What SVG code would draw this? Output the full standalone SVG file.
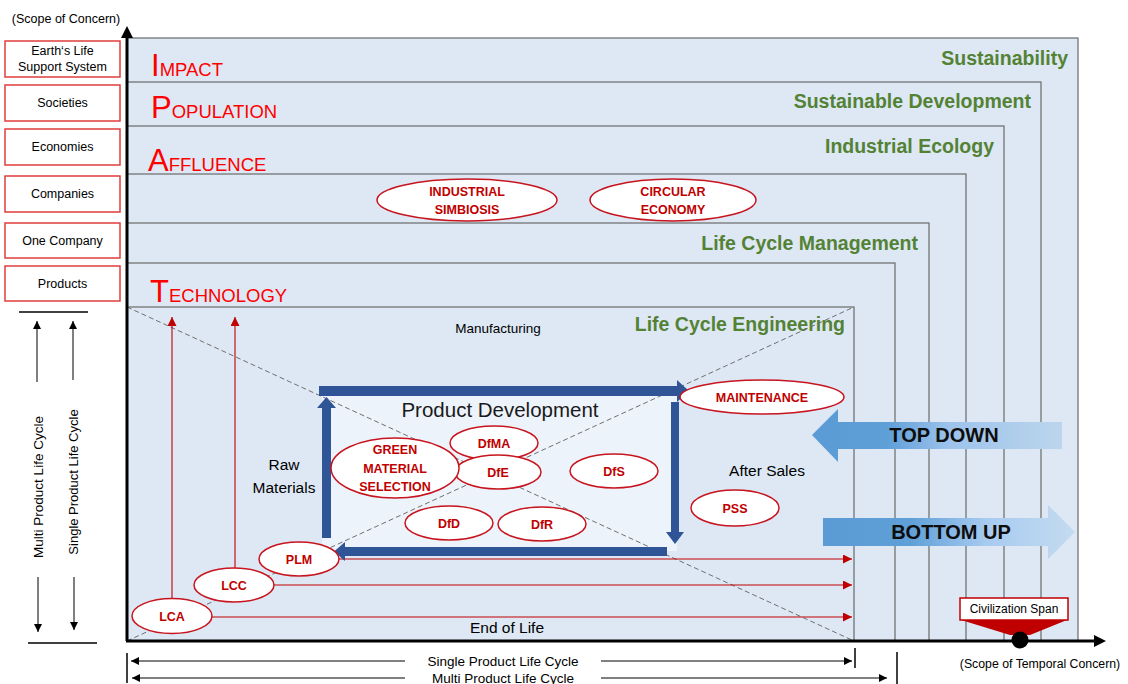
<svg xmlns="http://www.w3.org/2000/svg" width="1128" height="684" viewBox="0 0 1128 684">
<style>
text{font-family:"Liberation Sans",Arial,sans-serif;}
.zone{fill:#dde8f4;stroke:#6a6a6a;stroke-width:1.2}
.lbox{fill:#fff;stroke:#e03c3c;stroke-width:1.5}
.lt{font-size:12.5px;fill:#000;text-anchor:middle}
.big{fill:#ff0000}
.green{font-size:19.5px;font-weight:bold;fill:#548235;text-anchor:end}
.ell{fill:#fff;stroke:#c8141e;stroke-width:1.5}
.et{font-size:12.5px;font-weight:bold;fill:#c00000;text-anchor:middle}
.blk{fill:#1a1a1a}
.dash{stroke:#6f6f6f;stroke-width:1;stroke-dasharray:5 3;fill:none}
.red{stroke:#c00000;stroke-width:1.1;fill:none}
.thin{stroke:#000;stroke-width:1;fill:none}
.pd{fill:#2f5597}
</style>
<defs>
<marker id="ah" viewBox="0 0 10 10" refX="10" refY="5" markerWidth="8" markerHeight="8" markerUnits="userSpaceOnUse" orient="auto"><path d="M0,0 L10,5 L0,10 z" fill="#000"/></marker>
<marker id="ahr" viewBox="0 0 10 10" refX="10" refY="5" markerWidth="9" markerHeight="9" markerUnits="userSpaceOnUse" orient="auto"><path d="M0,0 L10,5 L0,10 z" fill="#c00000"/></marker>
<marker id="ahb" viewBox="0 0 10 10" refX="10" refY="5" markerWidth="12" markerHeight="12" markerUnits="userSpaceOnUse" orient="auto"><path d="M0,0 L10,5 L0,10 z" fill="#000"/></marker>
<linearGradient id="gTD" x1="0" y1="0" x2="1" y2="0">
<stop offset="0" stop-color="#5b9bd5"/><stop offset="0.3" stop-color="#5f9fd8"/><stop offset="0.55" stop-color="#9dc3ec"/><stop offset="1" stop-color="#bcd5ec"/>
</linearGradient>
<linearGradient id="gBU" x1="0" y1="0" x2="1" y2="0">
<stop offset="0" stop-color="#5b9bd5"/><stop offset="0.35" stop-color="#60a0d8"/><stop offset="0.65" stop-color="#a8cbf0"/><stop offset="1" stop-color="#c4dbf0"/>
</linearGradient>
</defs>
<rect width="1128" height="684" fill="#fff"/>

<g id="zones">
<rect class="zone" x="127" y="38" width="951" height="603"/>
<rect class="zone" x="127" y="82" width="914" height="559"/>
<rect class="zone" x="127" y="126" width="877" height="515"/>
<rect class="zone" x="127" y="174" width="839" height="467"/>
<rect class="zone" x="127" y="223" width="802" height="418"/>
<rect class="zone" x="127" y="263" width="768" height="378"/>
<rect class="zone" x="127" y="307" width="727" height="334"/>
<rect x="322" y="391" width="355" height="160" fill="#edf3fa"/>
</g>

<g id="zone-labels">
<text class="green" x="1068" y="65">Sustainability</text>
<text class="green" x="1031" y="108">Sustainable Development</text>
<text class="green" x="994" y="153">Industrial Ecology</text>
<text class="green" x="918" y="250">Life Cycle Management</text>
<text class="green" x="845" y="331">Life Cycle Engineering</text>
<text class="big" x="151" y="76"><tspan font-size="31">I</tspan><tspan font-size="18.5">MPACT</tspan></text>
<text class="big" x="151" y="118"><tspan font-size="31">P</tspan><tspan font-size="18.5">OPULATION</tspan></text>
<text class="big" x="148" y="171"><tspan font-size="31">A</tspan><tspan font-size="18.5">FFLUENCE</tspan></text>
<text class="big" x="150" y="302"><tspan font-size="31">T</tspan><tspan font-size="18.5">ECHNOLOGY</tspan></text>
</g>

<g id="diagonals">
<line class="dash" x1="127" y1="307" x2="854" y2="641"/>
<line class="dash" x1="127" y1="641" x2="854" y2="307"/>
</g>

<g id="phase-labels">
<text x="498" y="333" font-size="13.5" text-anchor="middle">Manufacturing</text>
<text x="284" y="470" font-size="15.5" text-anchor="middle">Raw</text>
<text x="284" y="493" font-size="15.5" text-anchor="middle">Materials</text>
<text x="767" y="476" font-size="15.5" text-anchor="middle">After Sales</text>
<text x="507" y="633" font-size="15.5" text-anchor="middle">End of Life</text>
<text x="500" y="417" font-size="20.5" text-anchor="middle" fill="#1a1a1a">Product Development</text>
</g>

<g id="connectors">
<line class="red" x1="172" y1="599" x2="172" y2="317" marker-end="url(#ahr)"/>
<line class="red" x1="235" y1="568" x2="235" y2="317" marker-end="url(#ahr)"/>
<line class="red" x1="339" y1="559" x2="852" y2="559" marker-end="url(#ahr)"/>
<line class="red" x1="274" y1="585" x2="852" y2="585" marker-end="url(#ahr)"/>
<line class="red" x1="212" y1="617" x2="852" y2="617" marker-end="url(#ahr)"/>
<polygon class="pd" points="319,386 677,386 677,380 689,391 677,402 677,396 319,396"/>
<polygon class="pd" points="671,402 679,402 679,532 684,532 675,544 666,532 671,532"/>
<polygon class="pd" points="667,547 667,556 345,556 345,561 334,551.5 345,542 345,547"/>
<polygon class="pd" points="322,538 331,538 331,408 336,408 326.5,397 317,408 322,408"/>
</g>

<g id="ell-industrial"><ellipse class="ell" cx="467" cy="200" rx="90" ry="21"/><text class="et" x="467" y="196">INDUSTRIAL</text><text class="et" x="467" y="214">SIMBIOSIS</text></g>
<g id="ell-circular"><ellipse class="ell" cx="673" cy="200" rx="83" ry="21"/><text class="et" x="673" y="196">CIRCULAR</text><text class="et" x="673" y="214">ECONOMY</text></g>
<g id="ell-maintenance"><ellipse class="ell" cx="762" cy="397" rx="82" ry="17"/><text class="et" x="762" y="402">MAINTENANCE</text></g>
<g id="ell-dfma"><ellipse class="ell" cx="494" cy="443" rx="44" ry="17"/><text class="et" x="494" y="448">DfMA</text></g>
<g id="ell-dfe"><ellipse class="ell" cx="498" cy="472" rx="43" ry="17"/><text class="et" x="498" y="477">DfE</text></g>
<g id="ell-green"><ellipse class="ell" cx="395" cy="468" rx="64" ry="30"/><text class="et" x="395" y="454">GREEN</text><text class="et" x="395" y="473">MATERIAL</text><text class="et" x="395" y="491">SELECTION</text></g>
<g id="ell-dfs"><ellipse class="ell" cx="614" cy="471" rx="44" ry="17"/><text class="et" x="614" y="476">DfS</text></g>
<g id="ell-dfd"><ellipse class="ell" cx="449" cy="523" rx="44" ry="17"/><text class="et" x="449" y="528">DfD</text></g>
<g id="ell-dfr"><ellipse class="ell" cx="542" cy="524" rx="44" ry="17"/><text class="et" x="542" y="529">DfR</text></g>
<g id="ell-pss"><ellipse class="ell" cx="735" cy="508" rx="44" ry="18"/><text class="et" x="735" y="513">PSS</text></g>
<g id="ell-plm"><ellipse class="ell" cx="299" cy="559" rx="40" ry="17"/><text class="et" x="299" y="564">PLM</text></g>
<g id="ell-lcc"><ellipse class="ell" cx="234" cy="585" rx="40" ry="17"/><text class="et" x="234" y="590">LCC</text></g>
<g id="ell-lca"><ellipse class="ell" cx="172" cy="616" rx="40" ry="17.5"/><text class="et" x="172" y="621">LCA</text></g>

<g id="top-down">
<polygon fill="url(#gTD)" points="812,435 838,409 838,422 1062,422 1062,449 838,449 838,462"/>
<text x="944" y="442" font-size="20" font-weight="bold" text-anchor="middle" fill="#0d0d0d">TOP DOWN</text>
</g>
<g id="bottom-up">
<polygon fill="url(#gBU)" points="823,518 1048,518 1048,505 1075,532 1048,559 1048,546 823,546"/>
<text x="951" y="539" font-size="20" font-weight="bold" text-anchor="middle" fill="#0d0d0d">BOTTOM UP</text>
</g>

<g id="axes">
<line x1="127" y1="641" x2="127" y2="36" stroke="#000" stroke-width="3"/>
<path d="M121,38 L127,26 L133,38 z" fill="#000"/>
<line x1="126" y1="641" x2="1096" y2="641" stroke="#000" stroke-width="3"/>
<path d="M1094,635 L1106,641 L1094,647 z" fill="#000"/>
<text x="66" y="23" font-size="12.5" text-anchor="middle">(Scope of Concern)</text>
<text x="1040" y="668" font-size="12.3" text-anchor="middle">(Scope of Temporal Concern)</text>
</g>

<g id="civilization-span">
<polygon points="961,620 1067,620 1030,635 1010,635" fill="#c00000"/>
<rect x="960" y="598" width="108" height="22" fill="#fff" stroke="#c00000" stroke-width="1.5"/>
<text x="1014" y="613" font-size="12" text-anchor="middle">Civilization Span</text>
<circle cx="1020" cy="640" r="8.5" fill="#000"/>
</g>

<g id="left-boxes">
<g id="box-earth"><rect class="lbox" x="5" y="41" width="115" height="36"/><text class="lt" x="62.5" y="55">Earth‘s Life</text><text class="lt" x="62.5" y="71">Support System</text></g>
<g id="box-societies"><rect class="lbox" x="5" y="85" width="115" height="36"/><text class="lt" x="62.5" y="107">Societies</text></g>
<g id="box-economies"><rect class="lbox" x="5" y="129" width="115" height="36"/><text class="lt" x="62.5" y="151">Economies</text></g>
<g id="box-companies"><rect class="lbox" x="5" y="176" width="115" height="36"/><text class="lt" x="62.5" y="198">Companies</text></g>
<g id="box-onecompany"><rect class="lbox" x="5" y="223" width="115" height="35"/><text class="lt" x="62.5" y="245">One Company</text></g>
<g id="box-products"><rect class="lbox" x="5" y="266" width="115" height="35"/><text class="lt" x="62.5" y="288">Products</text></g>
</g>

<g id="left-lifecycle">
<line x1="19" y1="312" x2="88" y2="312" stroke="#000" stroke-width="1.5"/>
<line x1="28" y1="643" x2="97" y2="643" stroke="#000" stroke-width="1.5"/>
<line class="thin" x1="37" y1="382" x2="37" y2="321" marker-end="url(#ah)"/>
<line class="thin" x1="38" y1="577" x2="38" y2="632" marker-end="url(#ah)"/>
<line class="thin" x1="73" y1="380" x2="73" y2="321" marker-end="url(#ah)"/>
<line class="thin" x1="74" y1="577" x2="74" y2="630" marker-end="url(#ah)"/>
<text transform="translate(43,487) rotate(-90)" font-size="13.5" text-anchor="middle">Multi Product Life Cycle</text>
<text transform="translate(78,482) rotate(-90)" font-size="13" text-anchor="middle">Single Product Life Cycle</text>
</g>

<g id="bottom-lifecycle">
<line x1="127" y1="653" x2="127" y2="683" stroke="#000" stroke-width="1.5"/>
<line x1="855" y1="648" x2="855" y2="668" stroke="#000" stroke-width="1.5"/>
<line x1="897" y1="652" x2="897" y2="687" stroke="#000" stroke-width="1.5"/>
<line class="thin" x1="405" y1="661" x2="131" y2="661" marker-end="url(#ah)"/>
<line class="thin" x1="601" y1="661" x2="852" y2="661" marker-end="url(#ah)"/>
<line class="thin" x1="405" y1="678" x2="132" y2="678" marker-end="url(#ah)"/>
<line class="thin" x1="601" y1="678" x2="887" y2="678" marker-end="url(#ah)"/>
<text x="503" y="666" font-size="13.5" text-anchor="middle">Single Product Life Cycle</text>
<text x="503" y="683" font-size="13.5" text-anchor="middle">Multi Product Life Cycle</text>
</g>
</svg>
